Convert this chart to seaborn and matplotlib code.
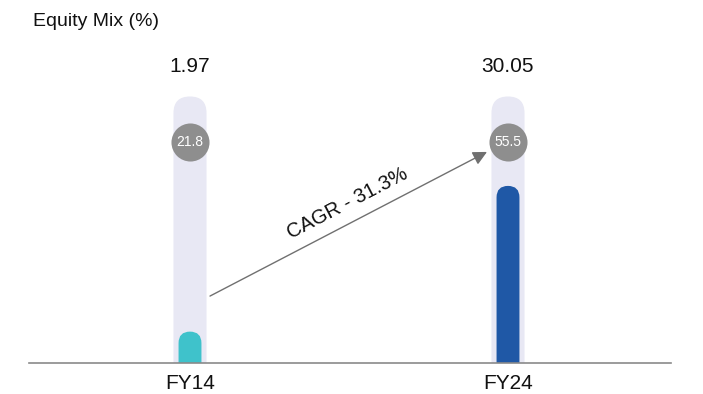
import numpy as np
import pandas as pd
import matplotlib
matplotlib.use("Agg")
import matplotlib.pyplot as plt
import matplotlib.transforms as mtransforms
from matplotlib.patches import FancyBboxPatch
import seaborn as sns

# ---- data ----
years = ["FY14", "FY24"]
equity_mix = [1.97, 30.05]          # bar values
ring_values = [21.8, 55.5]          # values shown in the grey badges
cagr_label = "CAGR - 31.3%"
title = "Equity Mix (%)"

# ---- styling ----
bar_colors = ["#3fc2cb", "#1f58a6"]
track_color = "#e8e8f4"
badge_color = "#8e8e8e"
axis_grey = "#8a8a8a"
arrow_grey = "#707070"
track_top = 57                      # height of the background track
power = 0.64                        # compressed value axis so small shares stay visible

sns.set_style("white")
plt.rcParams["font.family"] = ["Liberation Sans", "DejaVu Sans"]

W, H = 703, 394
fig = plt.figure(figsize=(W / 100, H / 100), dpi=100)
ax = fig.add_axes([29 / W, 31.5 / H, 642 / W, 322.5 / H])

df = pd.DataFrame({"year": years, "value": equity_mix, "track": [track_top] * len(years)})

# background tracks, then the value bars on top
sns.barplot(data=df, x="year", y="track", color=track_color, width=0.104,
            ax=ax, saturation=1)
n_track = len(ax.patches)
sns.barplot(data=df, x="year", y="value", hue="year", palette=bar_colors,
            width=0.072, ax=ax, saturation=1, legend=False)

ax.set_yscale("function",
              functions=(lambda y: np.sign(y) * np.abs(y) ** power,
                         lambda t: np.sign(t) * np.abs(t) ** (1 / power)))
ax.set_ylim(0, 77)
ax.set_xlim(-(190 - 29) / 318, 1 + (671 - 508) / 318)

for s in ["top", "left", "right"]:
    ax.spines[s].set_visible(False)
ax.spines["bottom"].set_color(axis_grey)
ax.spines["bottom"].set_linewidth(1.2)
ax.set_yticks([])
ax.set_xlabel("")
ax.set_ylabel("")
ax.tick_params(axis="x", length=0, pad=8, labelsize=15, colors="#111111")

# swap the square bars for pill shapes with rounded tops
fig.canvas.draw()
rects = list(ax.patches)
for i, p in enumerate(rects):
    bb = p.get_window_extent()
    r = bb.width / 2
    pill = FancyBboxPatch((bb.x0, bb.y0 - r), bb.width, bb.height + r,
                          boxstyle=f"round,pad=0,rounding_size={r}",
                          transform=mtransforms.IdentityTransform(),
                          facecolor=p.get_facecolor(), edgecolor="none",
                          zorder=1 if i < n_track else 1.5)
    p.remove()
    ax.add_patch(pill)

mix = mtransforms.blended_transform_factory(ax.transData, ax.transAxes)
xs = np.arange(len(years))

# badges near the top of each track
ax.plot(xs, [0.684] * len(xs), transform=mix, ls="none", marker="o",
        ms=27.4, color=badge_color, mec="none", clip_on=False, zorder=3)
for x, v in zip(xs, ring_values):
    ax.text(x, 0.684, f"{v}", transform=mix, ha="center", va="center",
            color="white", fontsize=10, zorder=4)

# value labels above the tracks
for x, v in zip(xs, equity_mix):
    ax.text(x, 0.919, f"{v:.2f}", transform=mix, ha="center", va="center",
            fontsize=15, color="#111111", clip_on=False)

# growth arrow between the two years
ax.annotate("", xy=((487 - 190) / 318, 0.653), xytext=((210 - 190) / 318, 0.206),
            xycoords=mix, textcoords=mix,
            arrowprops=dict(arrowstyle="-|>,head_length=0.6,head_width=0.3",
                            color=arrow_grey, lw=1, mutation_scale=14,
                            shrinkA=0, shrinkB=0))
ax.text((348 - 190) / 318, 0.4946, cagr_label, transform=mix, rotation=27.5,
        rotation_mode="anchor", ha="center", va="center", fontsize=14.5,
        color="#111111")

fig.text(33 / W, 1 - 22 / H, title, ha="left", va="center", fontsize=14,
         color="#111111")

fig.savefig("out.png", dpi=100)
